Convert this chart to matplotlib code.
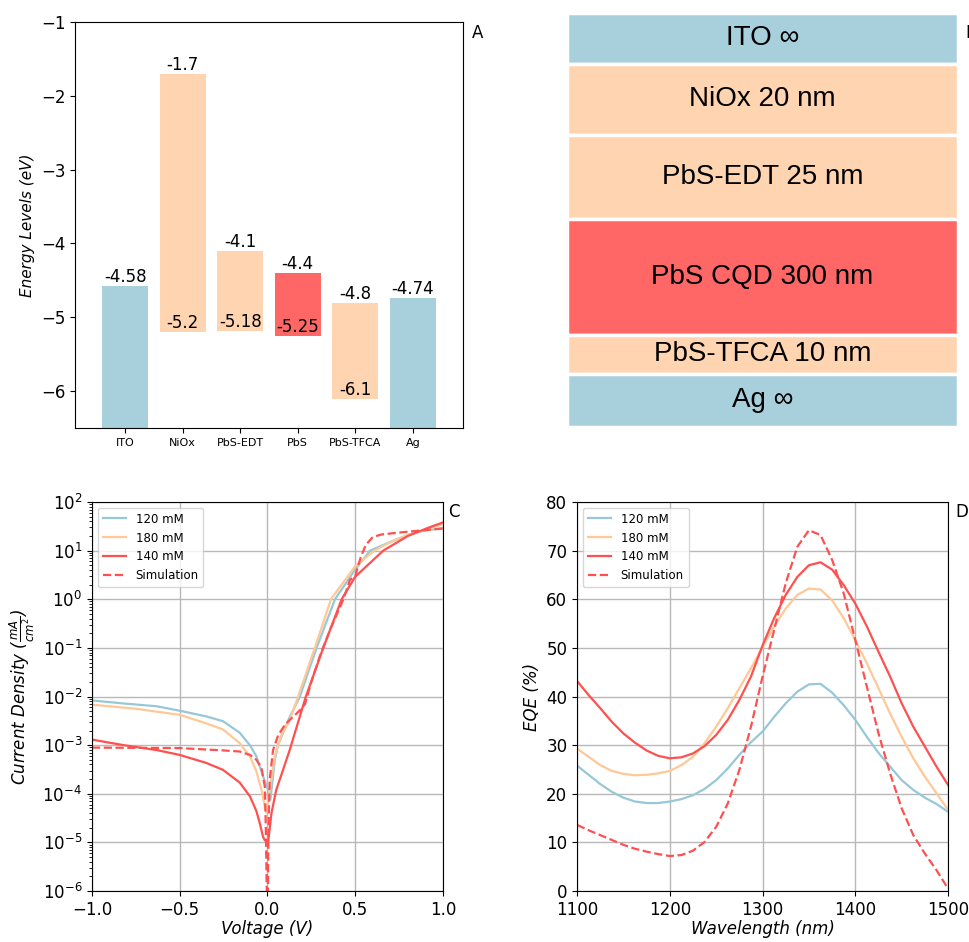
import numpy as np
import matplotlib.pyplot as plt

# colours
c_blue = '#a8d0dc'
c_peach = '#ffd4b0'
c_red = '#ff6666'
l_blue = '#96c8d8'
l_orange = '#ffc896'
l_red = '#ff5050'

# panel A: energy levels
materials = ['ITO', 'NiOx', 'PbS-EDT', 'PbS', 'PbS-TFCA', 'Ag']
level_top = [-4.58, -1.7, -4.1, -4.4, -4.8, -4.74]
level_bottom = [None, -5.2, -5.18, -5.25, -6.1, None]
bar_colors = [c_blue, c_peach, c_peach, c_red, c_peach, c_blue]

# panel B: device stack (display heights, px)
layer_names = ['ITO \u221e', 'NiOx 20 nm', 'PbS-EDT 25 nm', 'PbS CQD 300 nm',
               'PbS-TFCA 10 nm', 'Ag \u221e']
layer_heights = [51.5, 70.5, 84, 116.5, 38.5, 53]
layer_colors = [c_blue, c_peach, c_peach, c_red, c_peach, c_blue]

# panel C: J-V curves (mA/cm2)
V_120 = [-1.0, -0.82, -0.63, -0.5, -0.348, -0.253, -0.158, -0.1, -0.063, -0.025,
         0.004, 0.017, 0.042, 0.06, 0.08, 0.127, 0.185, 0.23, 0.28, 0.385, 0.5,
         0.585, 0.7, 0.8, 0.9, 1.0]
J_120 = [8.3e-3, 7.2e-3, 6.3e-3, 5.1e-3, 3.9e-3, 3.1e-3, 1.8e-3, 1.0e-3, 5.9e-4, 2.3e-4,
         1.2e-4, 7.6e-5, 5.0e-4, 1.0e-3, 1.5e-3, 3.8e-3, 1.0e-2, 3.0e-2, 1.0e-1, 1.0, 4.1,
         10, 15, 21, 26, 29]
V_180 = [-1.0, -0.75, -0.5, -0.348, -0.253, -0.158, -0.1, -0.063, -0.034, -0.015,
         -0.006, 0.013, 0.042, 0.08, 0.127, 0.175, 0.27, 0.362, 0.5, 0.61, 0.7, 0.8,
         0.9, 1.0]
J_180 = [6.8e-3, 5.6e-3, 4.2e-3, 2.8e-3, 2.1e-3, 1.1e-3, 5.9e-4, 2.9e-4, 1.2e-4, 5.5e-5,
         4.0e-5, 1.2e-4, 5.9e-4, 1.6e-3, 3.3e-3, 1.0e-2, 1.0e-1, 1.0, 4.8, 10, 15, 21,
         27, 35]
V_140 = [-1.0, -0.82, -0.63, -0.5, -0.348, -0.253, -0.158, -0.1, -0.063, -0.044,
         -0.025, -0.015, 0.005, 0.023, 0.05, 0.089, 0.127, 0.219, 0.318, 0.423, 0.5,
         0.66, 0.8, 0.9, 1.0]
J_140 = [1.3e-3, 1.0e-3, 7.9e-4, 6.3e-4, 4.3e-4, 3.1e-4, 1.7e-4, 8.9e-5, 4.4e-5, 2.5e-5,
         1.3e-5, 1.1e-5, 1.1e-5, 4.0e-5, 1.2e-4, 3.1e-4, 8.0e-4, 1.0e-2, 1.0e-1, 1.0, 2.9,
         10, 20, 28, 38]
V_sim = [-1.0, -0.5, -0.253, -0.158, -0.1, -0.063, -0.034, -0.015, -0.009, -0.004, 0.0,
         0.004, 0.008, 0.013, 0.032, 0.061, 0.099, 0.127, 0.185, 0.214, 0.25, 0.3, 0.36,
         0.433, 0.47, 0.5, 0.53, 0.56, 0.6, 0.65, 0.75, 0.9, 1.0]
J_sim = [8.9e-4, 8.7e-4, 7.8e-4, 7.4e-4, 6.3e-4, 5.0e-4, 3.4e-4, 1.4e-4, 1.8e-5, 1e-6, 1e-8,
         5e-6, 4e-5, 2e-4, 7.9e-4, 1.6e-3, 2.6e-3, 3.3e-3, 5.2e-3, 7e-3, 2e-2, 7e-2, 0.25,
         1.0, 2.5, 3.0, 7, 13, 19, 21.5, 23.5, 26.5, 28.5]

# panel D: EQE (%)
wl = [1100, 1112.5, 1125, 1137.5, 1150, 1162.5, 1175, 1187.5, 1200, 1212.5, 1225,
      1237.5, 1250, 1262.5, 1275, 1287.5, 1300, 1312.5, 1325, 1337.5, 1350, 1362.5,
      1375, 1387.5, 1400, 1412.5, 1425, 1437.5, 1450, 1462.5, 1475, 1487.5, 1500]
eqe_120 = [25.8, 23.9, 22.0, 20.4, 19.2, 18.4, 18.1, 18.1, 18.4, 18.9, 19.7,
           21.0, 22.8, 25.2, 28.0, 30.6, 32.8, 35.8, 38.6, 41.0, 42.5, 42.6,
           40.8, 38.2, 35.2, 31.7, 28.4, 25.6, 22.8, 20.8, 19.2, 17.9, 16.3]
eqe_180 = [29.3, 27.6, 25.9, 24.7, 24.1, 23.8, 23.9, 24.2, 24.7, 25.9, 27.6,
           30.4, 33.8, 37.6, 41.7, 45.8, 50.2, 54.4, 58.1, 60.9, 62.2, 62.0,
           59.8, 56.1, 51.6, 46.8, 41.7, 36.5, 31.7, 27.3, 23.5, 20.1, 16.7]
eqe_140 = [43.2, 40.3, 37.6, 34.8, 32.4, 30.5, 28.9, 27.8, 27.3, 27.5, 28.3,
           29.8, 32.1, 35.2, 39.3, 44.1, 50.5, 56.1, 60.9, 64.6, 67.0, 67.6,
           66.1, 62.9, 59.1, 54.4, 49.2, 44.1, 38.6, 33.8, 29.7, 25.6, 21.8]
eqe_sim = [13.6, 12.5, 11.5, 10.5, 9.5, 8.7, 8.1, 7.6, 7.2, 7.4, 8.3,
           10.1, 13.2, 18.0, 24.9, 33.8, 44.1, 53.7, 63.3, 70.8, 74.2, 73.2,
           68.1, 61.2, 51.6, 42.0, 32.4, 24.2, 17.0, 11.5, 7.7, 4.3, 0.5]

fig = plt.figure(figsize=(9.69, 9.42), dpi=100)

# ---- A ----
axA = fig.add_axes([0.0774, 0.5456, 0.4004, 0.431])
x = np.arange(len(materials))
for i in range(len(materials)):
    bot = level_bottom[i] if level_bottom[i] is not None else -8
    axA.bar(x[i], level_top[i] - bot, bottom=bot, width=0.8, color=bar_colors[i])
    axA.text(x[i], level_top[i], str(level_top[i]), ha='center', va='bottom', fontsize=12)
    if level_bottom[i] is not None:
        axA.text(x[i], level_bottom[i], str(level_bottom[i]), ha='center', va='bottom',
                 fontsize=12)
axA.set_xticks(x)
axA.set_xticklabels(materials, fontsize=8)
axA.set_xlim(-0.87, 5.87)
axA.set_ylim(-6.5, -1)
axA.set_yticks([-6, -5, -4, -3, -2, -1])
axA.tick_params(axis='y', labelsize=12)
axA.set_ylabel('Energy Levels (eV)', fontsize=11, style='italic')
axA.text(1.022, 0.973, 'A', transform=axA.transAxes, va='center', fontsize=12)

# ---- B ----
axB = fig.add_axes([0.5851, 0.5472, 0.4035, 0.4395])
tops = np.cumsum([0] + layer_heights[:-1])
total = sum(layer_heights)
for name, h, t, c in zip(layer_names, layer_heights, tops, layer_colors):
    axB.barh(total - t - h / 2, 1, height=h, left=0, color=c, edgecolor='white',
             linewidth=2.5)
    axB.text(0.5, total - t - h / 2, name, ha='center', va='center', fontsize=20,
             family=['Liberation Sans', 'DejaVu Sans'])
axB.set_xlim(0, 1)
axB.set_ylim(0, total)
axB.axis('off')
fig.text(965 / 969, 1 - 33 / 942, 'B', fontsize=12, va='center', ha='left')

# ---- C ----
axC = fig.add_axes([0.0949, 0.0541, 0.3622, 0.413])
axC.plot(V_120, J_120, color=l_blue, lw=1.6, label='120 mM')
axC.plot(V_180, J_180, color=l_orange, lw=1.6, label='180 mM')
axC.plot(V_140, J_140, color=l_red, lw=1.6, label='140 mM')
axC.plot(V_sim, J_sim, color=l_red, lw=1.6, ls='--', label='Simulation')
axC.set_yscale('log')
axC.set_ylim(1e-6, 1e2)
axC.set_yticks([10.0 ** k for k in range(-6, 3)])
axC.set_xlim(-1, 1)
axC.set_xticks([-1.0, -0.5, 0.0, 0.5, 1.0])
axC.tick_params(labelsize=12)
axC.grid(True, which='major', color='#b8b8b8', lw=1.0)
axC.set_xlabel('Voltage (V)', fontsize=12, style='italic', labelpad=1)
axC.set_ylabel(r'Current Density ($\frac{mA}{cm^2}$)', fontsize=12, style='italic')
axC.legend(loc='upper left', fontsize=8.5)
axC.text(1.015, 0.974, 'C', transform=axC.transAxes, va='center', fontsize=12)

# ---- D ----
axD = fig.add_axes([0.5955, 0.0541, 0.3829, 0.413])
axD.plot(wl, eqe_120, color=l_blue, lw=1.6, label='120 mM')
axD.plot(wl, eqe_180, color=l_orange, lw=1.6, label='180 mM')
axD.plot(wl, eqe_140, color=l_red, lw=1.6, label='140 mM')
axD.plot(wl, eqe_sim, color=l_red, lw=1.6, ls='--', label='Simulation')
axD.set_xlim(1100, 1500)
axD.set_ylim(0, 80)
axD.set_xticks([1100, 1200, 1300, 1400, 1500])
axD.set_yticks(range(0, 81, 10))
axD.tick_params(labelsize=12)
axD.grid(True, color='#b8b8b8', lw=1.0)
axD.set_xlabel('Wavelength (nm)', fontsize=12, style='italic', labelpad=1)
axD.set_ylabel('EQE (%)', fontsize=12, style='italic')
axD.legend(loc='upper left', fontsize=8.5)
axD.text(1.02, 0.974, 'D', transform=axD.transAxes, va='center', fontsize=12)

fig.savefig('out.png', dpi=100)
